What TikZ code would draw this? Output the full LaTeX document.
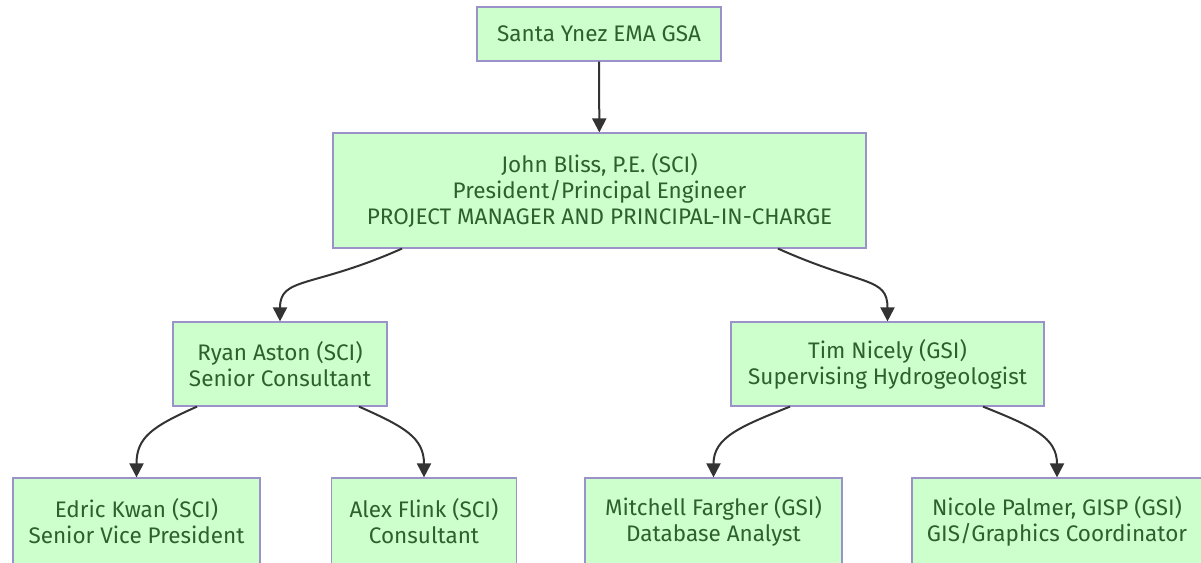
\documentclass[tikz,border=0pt]{standalone}
\usepackage{fontspec}
\setmainfont{Fira Sans}
\usetikzlibrary{arrows.meta}
\definecolor{boxfill}{HTML}{CCFFCC}
\definecolor{boxline}{HTML}{9A92C8}
\definecolor{boxtext}{HTML}{2F5F2F}
\definecolor{linkcol}{HTML}{333333}

\begin{document}
\begin{tikzpicture}[x=1pt,y=-1pt,
  box/.style={draw=boxline,fill=boxfill,text=boxtext,line width=1.2pt,
    align=center,inner sep=0pt,font=\fontsize{22.5}{26}\selectfont},
  link/.style={draw=linkcol,line width=2pt,-{Triangle[length=14pt,width=14pt]}}]
\useasboundingbox (0,0) rectangle (1201,562);
% top of the chart
\node[box,minimum width=244pt,minimum height=54pt] (gsa) at (599,34) {Santa Ynez EMA GSA};
\node[box,minimum width=533pt,minimum height=115pt] (bliss) at (599.5,190.5)
  {John Bliss, P.E. (SCI)\\President/Principal Engineer\\PROJECT MANAGER AND PRINCIPAL-IN-CHARGE};
% second level
\node[box,minimum width=214pt,minimum height=84pt] (aston) at (280,364)
  {Ryan Aston (SCI)\\Senior Consultant};
\node[box,minimum width=313pt,minimum height=84pt] (nicely) at (887.5,364)
  {Tim Nicely (GSI)\\Supervising Hydrogeologist};
% bottom level
\node[box,minimum width=247pt,minimum height=86pt] (kwan) at (136.5,521)
  {Edric Kwan (SCI)\\Senior Vice President};
\node[box,minimum width=185pt,minimum height=86pt] (flink) at (424,521)
  {Alex Flink (SCI)\\Consultant};
\node[box,minimum width=257pt,minimum height=86pt] (fargher) at (713.5,521)
  {Mitchell Fargher (GSI)\\Database Analyst};
\node[box,minimum width=290pt,minimum height=86pt] (palmer) at (1057,521)
  {Nicole Palmer, GISP (GSI)\\GIS/Graphics Coordinator};
% links
\draw[link] (gsa) -- (bliss);
\draw[link] ([xshift=-197.5pt]bliss.south) .. controls +(-90,40) and +(0,-45) .. (aston.north);
\draw[link] ([xshift=178.5pt]bliss.south) .. controls +(85,38) and +(0,-45) .. (nicely.north);
\draw[link] ([xshift=-83pt]aston.south) .. controls +(-45,20) and +(0,-40) .. (kwan.north);
\draw[link] ([xshift=79pt]aston.south) .. controls +(45,20) and +(0,-40) .. (flink.north);
\draw[link] ([xshift=-97.5pt]nicely.south) .. controls +(-50,20) and +(0,-40) .. (fargher.north);
\draw[link] ([xshift=95.5pt]nicely.south) .. controls +(50,20) and +(0,-40) .. (palmer.north);
\end{tikzpicture}
\end{document}
